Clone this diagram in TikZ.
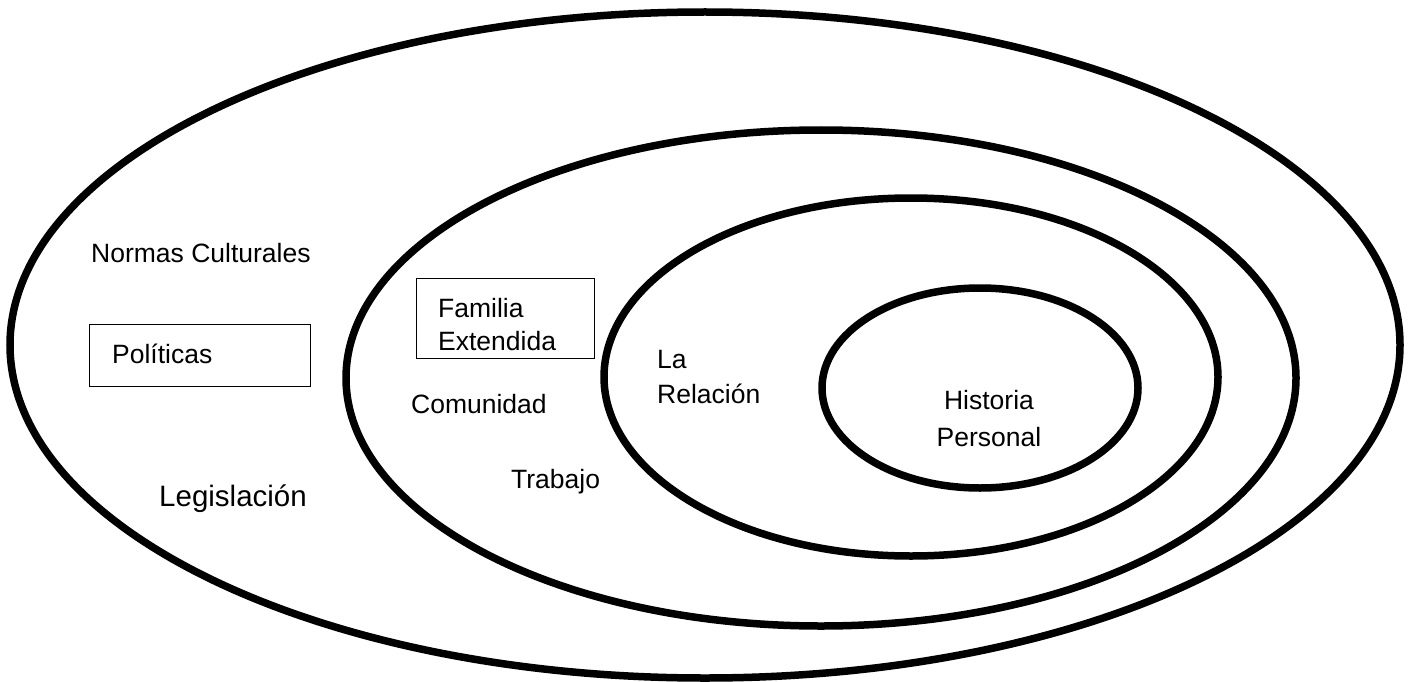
\documentclass[tikz,border=0pt]{standalone}
\usepackage{fontspec}
\setmainfont{Liberation Sans}
\begin{document}
\begin{tikzpicture}[x=1pt,y=-1pt,
  ring/.style={line width=7.5pt},
  lbl/.style={anchor=base west, inner sep=0pt, font=\fontsize{26.5}{33}\selectfont},
  frame/.style={draw, line width=1.4pt, anchor=north west, inner sep=0pt},
]
\useasboundingbox (0,0) rectangle (1413,682);
\fill[white] (0,0) rectangle (1413,682);
% rings
\draw[ring] (705,345) ellipse [x radius=695, y radius=333];
\draw[ring] (821,378) ellipse [x radius=475, y radius=248];
\draw[ring] (911,377) ellipse [x radius=307, y radius=179];
\draw[ring] (980,388) ellipse [x radius=158, y radius=100];
% outer ring labels
\node[lbl] (normas) at (91,262) {Normas Culturales};
\node[frame, minimum width=221pt, minimum height=62pt] (polbox) at (89,324) {};
\node[lbl] (politicas) at (112,363) {Políticas};
\node[lbl, font=\fontsize{29.5}{35}\selectfont] (legis) at (159,506) {Legislación};
% community ring labels
\node[frame, minimum width=178pt, minimum height=80pt] (fambox) at (416,278) {};
\node[lbl, align=left] (familia) at (438,350) {Familia\\Extendida};
\node[lbl] (comunidad) at (411,413) {Comunidad};
\node[lbl] (trabajo) at (511,488) {Trabajo};
% relationship ring
\node[lbl, align=left, font=\fontsize{26.5}{35}\selectfont] (relacion) at (657,403) {La\\Relación};
% individual
\node[lbl, anchor=base, align=center, font=\fontsize{26.5}{37}\selectfont] (historia) at (989,446) {Historia\\Personal};
\end{tikzpicture}
\end{document}
